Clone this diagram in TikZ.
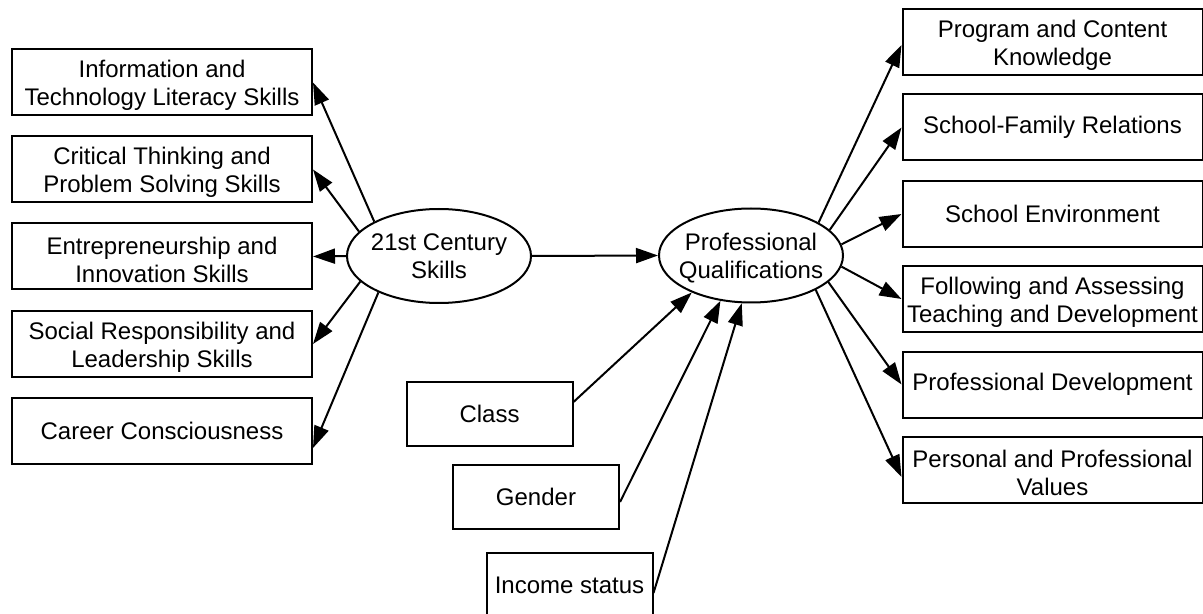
\documentclass[tikz,border=0pt]{standalone}
\usepackage{fontspec}
\setmainfont{Liberation Sans}
\usetikzlibrary{arrows.meta, shapes.geometric}

\begin{document}
\begin{tikzpicture}[x=0.5pt, y=-0.5pt, font=\fontsize{12pt}{14pt}\selectfont,
    box/.style={draw, line width=1pt, align=center, inner sep=0pt, minimum width=150pt, minimum height=33pt},
    twoline/.style={box, text height=25.7pt},
    smallbox/.style={box, minimum width=83pt, minimum height=32pt},
    oval/.style={draw, ellipse, line width=1pt, inner sep=0pt, minimum width=92pt, minimum height=47pt},
    link/.style={-{Triangle[length=11pt, width=7.5pt]}, line width=1pt}]

    \useasboundingbox (0,0) rectangle (1203,614);

    %% Skills side

    % Central ovals
    \node[oval, label={[align=center]center:21st Century\\Skills}] (skills) at (439,256) {};
    \node[oval, label={[align=center, yshift=-1.5pt]center:Professional\\Qualifications}] (qual) at (751,255.5) {};

    % Skill boxes
    \node[twoline] (info) at (162,82.5) {Information and\\Technology Literacy Skills};
    \node[twoline] (critical) at (162,169.5) {Critical Thinking and\\Problem Solving Skills};
    \node[twoline] (entre) at (162,256.5) {Entrepreneurship and\\Innovation Skills};
    \node[twoline] (social) at (162,344) {Social Responsibility and\\Leadership Skills};
    \node[box] (career) at (162,431) {Career Consciousness};

    % Qualification boxes
    \node[twoline] (program) at (1052.5,42) {Program and Content\\Knowledge};
    \node[box] (family) at (1052.5,127.5) {School-Family Relations};
    \node[box] (environment) at (1052.5,214) {School Environment};
    \node[twoline] (assessing) at (1052.5,299) {Following and Assessing\\Teaching and Development};
    \node[box] (development) at (1052.5,384.5) {Professional Development};
    \node[twoline] (values) at (1052.5,470) {Personal and Professional\\Values};

    % Background variables
    \node[smallbox] (class) at (489.5,413.5) {Class};
    \node[smallbox] (gender) at (536,496.5) {Gender};
    \node[smallbox] (income) at (569.5,585) {Income status};

    %% Arrows

    % Skills
    \draw[link] (skills.152) -- (info.east);
    \draw[link] (skills.163) -- (critical.east);
    \draw[link] (skills.west) -- (entre.east);
    \draw[link] (skills.198) -- (social.east);
    \draw[link] (skills.211) -- ([yshift=-8.5pt]career.east);
    \draw[link] (skills.east) -- (qual.west);

    % Qualifications
    \draw[link] (qual.26) -- ([yshift=-1.5pt]program.west);
    \draw[link] (qual.18) -- (family.west);
    \draw[link] (qual.7) -- (environment.west);
    \draw[link] (qual.353) -- (assessing.west);
    \draw[link] (qual.341) -- (development.west);
    \draw[link] (qual.332) -- ([yshift=-3.5pt]values.west);

    % Background
    \draw[link] ([yshift=5.75pt]class.east) -- (qual.212);
    \draw[link] ([yshift=-2.75pt]gender.east) -- (qual.236);
    \draw[link] ([yshift=-4pt]income.east) -- (qual.259);

\end{tikzpicture}
\end{document}
